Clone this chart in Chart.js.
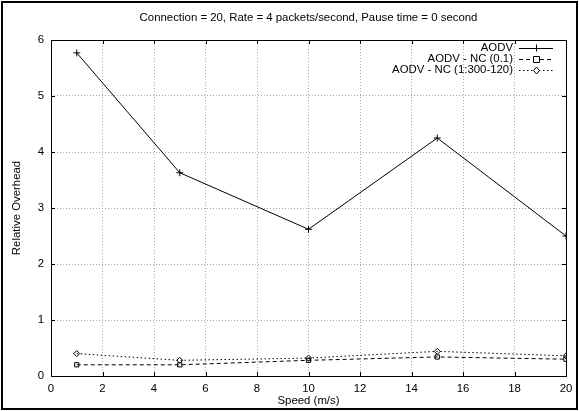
<!DOCTYPE html>
<html>
<head>
<meta charset="utf-8">
<script src="https://cdn.jsdelivr.net/npm/chart.js@4/dist/chart.umd.min.js"></script>
<style>
  html, body { margin: 0; padding: 0; background: #fff; }
  #wrap { width: 579px; height: 411px; position: relative; }
</style>
</head>
<body>
<div id="wrap"><canvas id="c" width="579" height="411"></canvas></div>
<script>
// Speeds (m/s) at which overhead was measured
const speeds = [1, 5, 10, 15, 20];
// Relative overhead per protocol variant
const aodv = [5.77, 3.63, 2.62, 4.25, 2.5];
const aodvNc01 = [0.2, 0.2, 0.28, 0.34, 0.3];
const aodvNc300 = [0.4, 0.28, 0.32, 0.44, 0.36];
const seriesNames = ['AODV', 'AODV - NC (0.1)', 'AODV - NC (1:300-120)'];
const titleText = 'Connection = 20, Rate = 4 packets/second, Pause time = 0 second';
const xTitle = 'Speed (m/s)';
const yTitle = 'Relative Overhead';

const FAMILY = '"Liberation Sans", Arial, sans-serif';
const FONT = '11.4px ' + FAMILY;
const styles = [
  { dash: [], point: 'cross', radius: 3.5 },
  { dash: [4, 3], point: 'rect', radius: 3 },
  { dash: [1.5, 2.5], point: 'rectRot', radius: 3 }
];

function toXY(vals) { return speeds.map((s, i) => ({ x: s, y: vals[i] })); }

const datasets = [aodv, aodvNc01, aodvNc300].map((vals, i) => ({
  label: seriesNames[i],
  data: toXY(vals),
  borderColor: '#000',
  backgroundColor: 'rgba(0,0,0,0)',
  borderWidth: 1,
  borderDash: styles[i].dash,
  pointStyle: styles[i].point,
  pointRadius: styles[i].radius,
  pointBorderColor: '#000',
  pointBackgroundColor: 'rgba(0,0,0,0)',
  pointBorderWidth: 1,
  tension: 0,
  fill: false
}));

// Frame, box border, inward ticks, titles and key
const decor = {
  id: 'decor',
  afterDraw(chart) {
    const ctx = chart.ctx;
    const a = chart.chartArea;
    const xs = chart.scales.x, ys = chart.scales.y;
    ctx.save();
    // outer frame
    ctx.strokeStyle = '#000';
    ctx.lineWidth = 2;
    ctx.setLineDash([]);
    ctx.strokeRect(2, 2, 575, 407);
    // plot box
    ctx.lineWidth = 1;
    ctx.strokeRect(Math.round(a.left) + 0.5, Math.round(a.top) + 0.5,
                   Math.round(a.right - a.left), Math.round(a.bottom - a.top));
    // inward tick marks
    const tl = 4;
    ctx.beginPath();
    for (let v = 0; v <= 20; v += 2) {
      const px = Math.round(xs.getPixelForValue(v)) + 0.5;
      ctx.moveTo(px, a.bottom); ctx.lineTo(px, a.bottom - tl);
      ctx.moveTo(px, a.top); ctx.lineTo(px, a.top + tl);
    }
    for (let v = 0; v <= 6; v += 1) {
      const py = Math.round(ys.getPixelForValue(v)) + 0.5;
      ctx.moveTo(a.left, py); ctx.lineTo(a.left + tl, py);
      ctx.moveTo(a.right, py); ctx.lineTo(a.right - tl, py);
    }
    ctx.stroke();
    // texts
    ctx.fillStyle = '#000';
    ctx.font = FONT;
    ctx.textAlign = 'center';
    ctx.textBaseline = 'middle';
    ctx.fillText(titleText, (a.left + a.right) / 2, 18);
    ctx.fillText(xTitle, (a.left + a.right) / 2, 401);
    ctx.save();
    ctx.translate(17, (a.top + a.bottom) / 2);
    ctx.rotate(-Math.PI / 2);
    ctx.fillText(yTitle, 0, 0);
    ctx.restore();
    // key
    const rows = [48, 59, 70];
    const x0 = 519, x1 = 553;
    datasets.forEach((d, i) => {
      const y = rows[i];
      ctx.textAlign = 'right';
      ctx.fillText(d.label, 513, y);
      ctx.beginPath();
      ctx.setLineDash(styles[i].dash);
      ctx.moveTo(x0, y + 0.5); ctx.lineTo(x1, y + 0.5);
      ctx.stroke();
      ctx.setLineDash([]);
      const cx = Math.round((x0 + x1) / 2), r = styles[i].radius;
      ctx.fillStyle = '#fff';
      ctx.beginPath();
      if (styles[i].point === 'cross') {
        ctx.moveTo(cx - r, y + 0.5); ctx.lineTo(cx + r, y + 0.5);
        ctx.moveTo(cx + 0.5, y - r); ctx.lineTo(cx + 0.5, y + r);
        ctx.stroke();
      } else if (styles[i].point === 'rect') {
        ctx.rect(cx - r + 0.5, y - r + 0.5, 2 * r, 2 * r);
        ctx.fill(); ctx.stroke();
      } else {
        ctx.moveTo(cx + 0.5, y - r); ctx.lineTo(cx + r + 0.5, y + 0.5);
        ctx.lineTo(cx + 0.5, y + r + 1); ctx.lineTo(cx - r + 0.5, y + 0.5);
        ctx.closePath(); ctx.fill(); ctx.stroke();
      }
      ctx.fillStyle = '#000';
    });
    ctx.restore();
  }
};

const gridColor = (edgeVals) => (c) => (c.tick && edgeVals.includes(c.tick.value)) ? 'rgba(0,0,0,0)' : '#a8a8a8';

new Chart(document.getElementById('c'), {
  type: 'line',
  data: { datasets },
  options: {
    responsive: false,
    animation: false,
    events: [],
    layout: { padding: { top: 40, right: 13, left: 0, bottom: 0 } },
    plugins: { legend: { display: false }, title: { display: false }, tooltip: { enabled: false } },
    scales: {
      x: {
        type: 'linear', min: 0, max: 20,
        ticks: { stepSize: 2, padding: 6, color: '#000', font: { family: FAMILY, size: 11.4 }, maxRotation: 0 },
        grid: { drawTicks: false, color: gridColor([0, 20]), lineWidth: 1 },
        border: { display: false, dash: [1, 2] },
        afterFit(s) { s.height = 35; }
      },
      y: {
        type: 'linear', min: 0, max: 6,
        ticks: { stepSize: 1, padding: 7, color: '#000', font: { family: FAMILY, size: 11.4 } },
        grid: { drawTicks: false, color: gridColor([0, 6]), lineWidth: 1 },
        border: { display: false, dash: [1, 2] },
        afterFit(s) { s.width = 51; }
      }
    }
  },
  plugins: [decor]
});
</script>
</body>
</html>
